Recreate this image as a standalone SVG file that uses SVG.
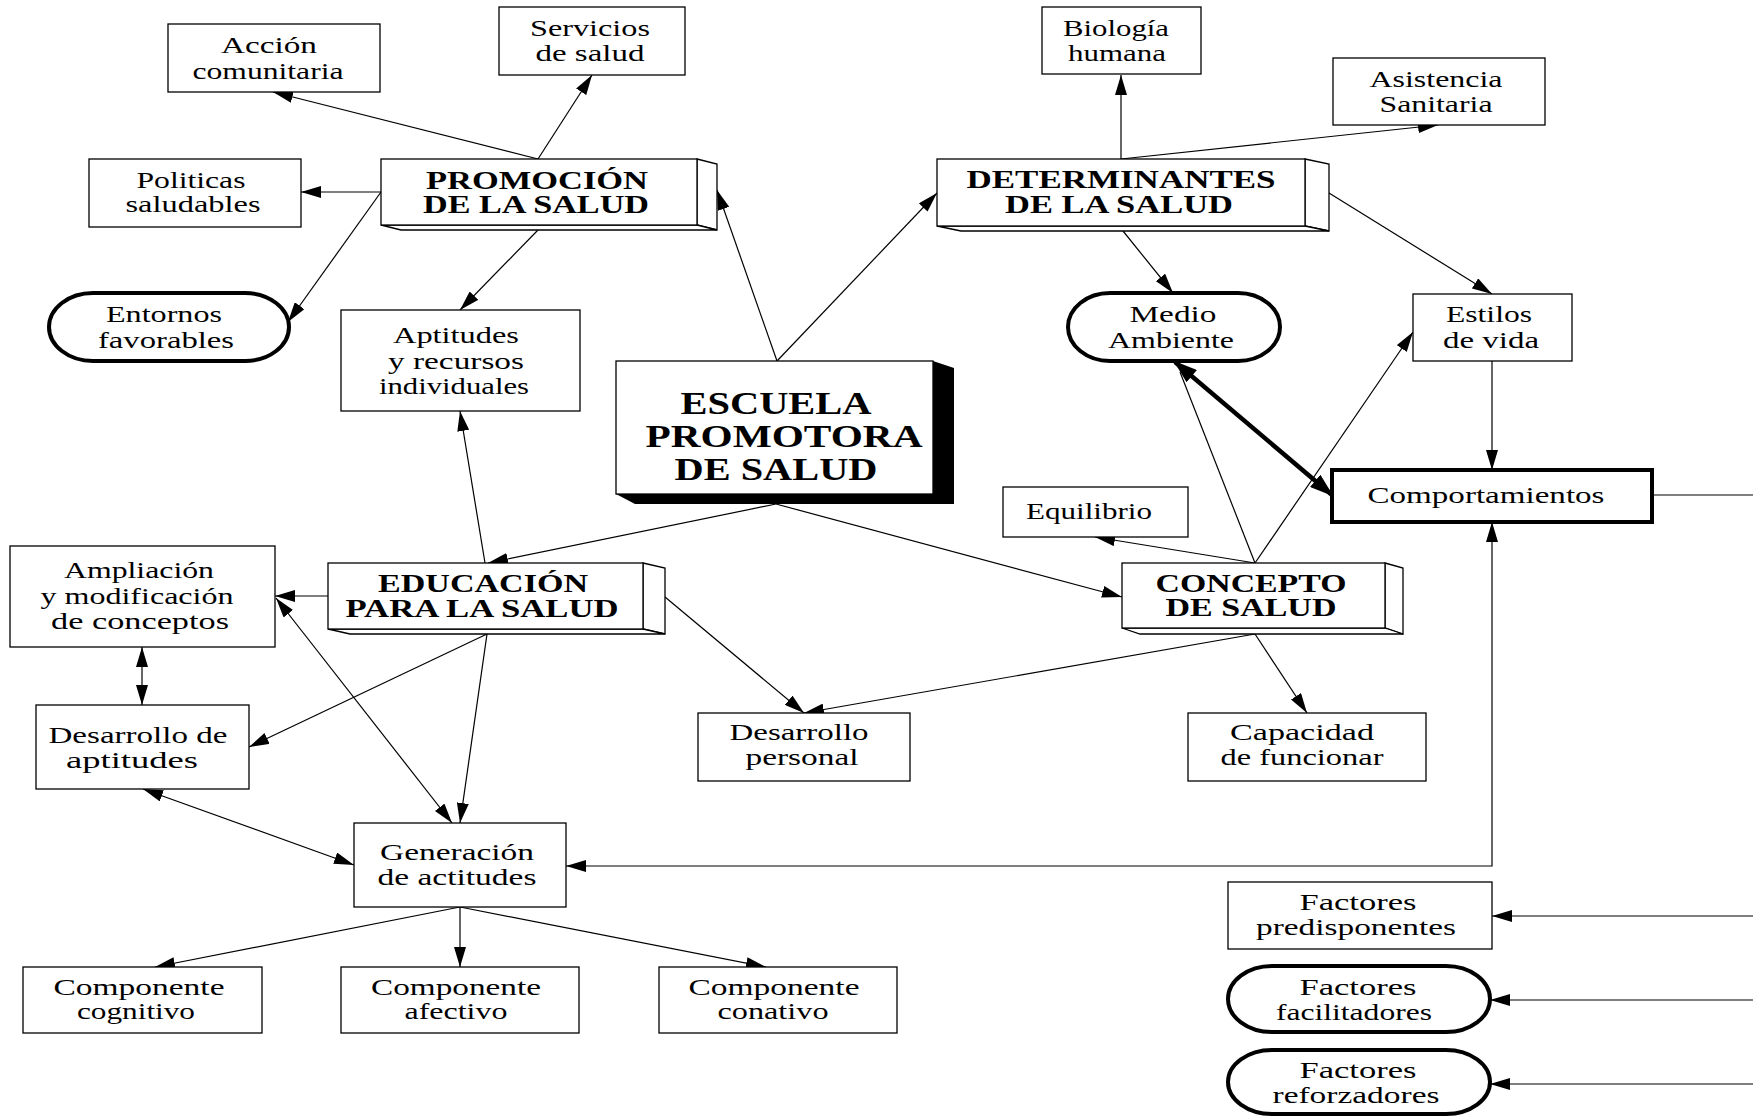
<svg xmlns="http://www.w3.org/2000/svg" width="1753" height="1116" viewBox="0 0 1753 1116">
<defs>
<style>
.bx{fill:#fff;stroke:#000;stroke-width:1.3}
.tk{fill:#fff;stroke:#000;stroke-width:4}
.ln{fill:none;stroke:#000;stroke-width:1.2}
.lk{fill:none;stroke:#000;stroke-width:4.5}
text{font-family:"Liberation Serif","Times New Roman",serif;font-size:23px;text-anchor:middle;fill:#000}
.b{font-weight:bold;font-size:25px}
.e{font-weight:bold;font-size:31px}
</style>
<marker id="ah" markerWidth="20" markerHeight="12" refX="20" refY="6" orient="auto" markerUnits="userSpaceOnUse"><path d="M0,0 L20,6 L0,12 z" fill="#000"/></marker>
<marker id="as" markerWidth="20" markerHeight="12" refX="20" refY="6" orient="auto-start-reverse" markerUnits="userSpaceOnUse"><path d="M0,0 L20,6 L0,12 z" fill="#000"/></marker>
<marker id="ak" markerWidth="24" markerHeight="16" refX="22" refY="8" orient="auto-start-reverse" markerUnits="userSpaceOnUse"><path d="M0,0 L24,8 L0,16 z" fill="#000"/></marker>
</defs>
<rect width="1753" height="1116" fill="#fff"/>
<g id="connectors">
<line class="ln" x1="538" y1="159" x2="273" y2="92" marker-end="url(#ah)"/>
<line class="ln" x1="538" y1="159" x2="592" y2="75" marker-end="url(#ah)"/>
<line class="ln" x1="381" y1="192" x2="301" y2="192" marker-end="url(#ah)"/>
<line class="ln" x1="381" y1="192" x2="288" y2="322" marker-end="url(#ah)"/>
<line class="ln" x1="538" y1="230" x2="460" y2="310" marker-end="url(#ah)"/>
<line class="ln" x1="777" y1="361" x2="717" y2="190" marker-end="url(#ah)"/>
<line class="ln" x1="777" y1="361" x2="937" y2="193" marker-end="url(#ah)"/>
<line class="ln" x1="1121" y1="159" x2="1121" y2="75" marker-end="url(#ah)"/>
<line class="ln" x1="1121" y1="159" x2="1438" y2="125" marker-end="url(#ah)"/>
<line class="ln" x1="1123" y1="231" x2="1173" y2="293" marker-end="url(#ah)"/>
<line class="ln" x1="1329" y1="193" x2="1492" y2="294" marker-end="url(#ah)"/>
<line class="ln" x1="1492" y1="361" x2="1492" y2="470" marker-end="url(#ah)"/>
<line class="ln" x1="1255" y1="563" x2="1180" y2="372"/>
<line class="lk" x1="1175" y1="362" x2="1332" y2="495" marker-start="url(#ak)" marker-end="url(#ak)"/>
<line class="ln" x1="1255" y1="563" x2="1413" y2="332" marker-end="url(#ah)"/>
<line class="ln" x1="1255" y1="563" x2="1095" y2="537" marker-end="url(#ah)"/>
<line class="ln" x1="776" y1="504" x2="1122" y2="597" marker-end="url(#ah)"/>
<line class="ln" x1="776" y1="504" x2="488" y2="563" marker-end="url(#ah)"/>
<line class="ln" x1="1255" y1="634" x2="804" y2="713" marker-end="url(#ah)"/>
<line class="ln" x1="1255" y1="634" x2="1307" y2="713" marker-end="url(#ah)"/>
<line class="ln" x1="665" y1="597" x2="804" y2="713" marker-end="url(#ah)"/>
<line class="ln" x1="485" y1="563" x2="460" y2="411" marker-end="url(#ah)"/>
<line class="ln" x1="328" y1="596" x2="275" y2="596" marker-end="url(#ah)"/>
<line class="ln" x1="142" y1="647" x2="142" y2="705" marker-start="url(#as)" marker-end="url(#as)"/>
<line class="ln" x1="487" y1="634" x2="249" y2="747" marker-end="url(#ah)"/>
<line class="ln" x1="487" y1="634" x2="460" y2="823" marker-end="url(#ah)"/>
<line class="ln" x1="276" y1="598" x2="452" y2="823" marker-start="url(#as)" marker-end="url(#as)"/>
<line class="ln" x1="143" y1="789" x2="354" y2="865" marker-start="url(#as)" marker-end="url(#as)"/>
<polyline class="ln" points="1492,522 1492,866 566,866" marker-start="url(#as)" marker-end="url(#as)"/>
<line class="ln" x1="1652" y1="495" x2="1753" y2="495"/>
<line class="ln" x1="1753" y1="916" x2="1492" y2="916" marker-end="url(#ah)"/>
<line class="ln" x1="1753" y1="1000" x2="1490" y2="1000" marker-end="url(#ah)"/>
<line class="ln" x1="1753" y1="1084" x2="1490" y2="1084" marker-end="url(#ah)"/>
<line class="ln" x1="460" y1="907" x2="155" y2="967" marker-end="url(#ah)"/>
<line class="ln" x1="460" y1="907" x2="460" y2="967" marker-end="url(#ah)"/>
<line class="ln" x1="460" y1="907" x2="766" y2="967" marker-end="url(#ah)"/>
</g>
<g id="accion"><rect class="bx" x="168" y="24" width="212" height="68"/>
<text x="269" y="53" textLength="96" lengthAdjust="spacingAndGlyphs">Acción</text>
<text x="268" y="79" textLength="151" lengthAdjust="spacingAndGlyphs">comunitaria</text></g>
<g id="servicios"><rect class="bx" x="499" y="7" width="186" height="68"/>
<text x="590" y="36" textLength="120" lengthAdjust="spacingAndGlyphs">Servicios</text>
<text x="590" y="61" textLength="109" lengthAdjust="spacingAndGlyphs">de salud</text></g>
<g id="politicas"><rect class="bx" x="89" y="159" width="212" height="68"/>
<text x="191" y="188" textLength="109" lengthAdjust="spacingAndGlyphs">Politicas</text>
<text x="193" y="212" textLength="135" lengthAdjust="spacingAndGlyphs">saludables</text></g>
<g id="promocion">
<polygon class="bx" points="697,159 717,164 717,230 697,225"/>
<polygon class="bx" points="381,225 401,230 717,230 697,225"/>
<rect class="bx" x="381" y="159" width="316" height="66"/>
<text class="b" x="537" y="189" textLength="222" lengthAdjust="spacingAndGlyphs">PROMOCIÓN</text>
<text class="b" x="536" y="213" textLength="226" lengthAdjust="spacingAndGlyphs">DE LA SALUD</text></g>
<g id="entornos"><rect class="tk" x="49" y="293" width="240" height="68" rx="44" ry="34"/>
<text x="164" y="322" textLength="116" lengthAdjust="spacingAndGlyphs">Entornos</text>
<text x="166" y="348" textLength="136" lengthAdjust="spacingAndGlyphs">favorables</text></g>
<g id="aptitudes"><rect class="bx" x="341" y="310" width="239" height="101"/>
<text x="456" y="343" textLength="126" lengthAdjust="spacingAndGlyphs">Aptitudes</text>
<text x="456" y="369" textLength="136" lengthAdjust="spacingAndGlyphs">y recursos</text>
<text x="454" y="394" textLength="150" lengthAdjust="spacingAndGlyphs">individuales</text></g>
<g id="escuela">
<polygon points="933,361 954,368 954,504 635,504 616,494 933,494" fill="#000"/>
<rect class="bx" x="616" y="361" width="317" height="133" stroke-width="1.8"/>
<text class="e" x="776" y="414" textLength="191" lengthAdjust="spacingAndGlyphs">ESCUELA</text>
<text class="e" x="784" y="447" textLength="277" lengthAdjust="spacingAndGlyphs">PROMOTORA</text>
<text class="e" x="776" y="480" textLength="203" lengthAdjust="spacingAndGlyphs">DE SALUD</text></g>
<g id="biologia"><rect class="bx" x="1042" y="7" width="159" height="67"/>
<text x="1116" y="36" textLength="106" lengthAdjust="spacingAndGlyphs">Biología</text>
<text x="1117" y="61" textLength="98" lengthAdjust="spacingAndGlyphs">humana</text></g>
<g id="asistencia"><rect class="bx" x="1333" y="58" width="212" height="67"/>
<text x="1436" y="87" textLength="133" lengthAdjust="spacingAndGlyphs">Asistencia</text>
<text x="1436" y="112" textLength="113" lengthAdjust="spacingAndGlyphs">Sanitaria</text></g>
<g id="determinantes">
<polygon class="bx" points="1305,159 1329,164 1329,231 1305,226"/>
<polygon class="bx" points="937,226 961,231 1329,231 1305,226"/>
<rect class="bx" x="937" y="159" width="368" height="67"/>
<text class="b" x="1121" y="188" textLength="309" lengthAdjust="spacingAndGlyphs">DETERMINANTES</text>
<text class="b" x="1119" y="213" textLength="228" lengthAdjust="spacingAndGlyphs">DE LA SALUD</text></g>
<g id="medio"><rect class="tk" x="1068" y="293" width="212" height="68" rx="42" ry="34"/>
<text x="1173" y="322" textLength="87" lengthAdjust="spacingAndGlyphs">Medio</text>
<text x="1171" y="348" textLength="126" lengthAdjust="spacingAndGlyphs">Ambiente</text></g>
<g id="estilos"><rect class="bx" x="1413" y="294" width="159" height="67"/>
<text x="1489" y="322" textLength="86" lengthAdjust="spacingAndGlyphs">Estilos</text>
<text x="1491" y="348" textLength="96" lengthAdjust="spacingAndGlyphs">de vida</text></g>
<g id="comportamientos"><rect class="tk" x="1332" y="470" width="320" height="52"/>
<text x="1486" y="503" textLength="237" lengthAdjust="spacingAndGlyphs">Comportamientos</text></g>
<g id="equilibrio"><rect class="bx" x="1003" y="487" width="185" height="50"/>
<text x="1089" y="519" textLength="126" lengthAdjust="spacingAndGlyphs">Equilibrio</text></g>
<g id="concepto">
<polygon class="bx" points="1385,563 1403,568 1403,634 1385,628"/>
<polygon class="bx" points="1122,628 1140,634 1403,634 1385,628"/>
<rect class="bx" x="1122" y="563" width="263" height="65"/>
<text class="b" x="1251" y="592" textLength="191" lengthAdjust="spacingAndGlyphs">CONCEPTO</text>
<text class="b" x="1251" y="616" textLength="171" lengthAdjust="spacingAndGlyphs">DE SALUD</text></g>
<g id="ampliacion"><rect class="bx" x="10" y="546" width="265" height="101"/>
<text x="139" y="578" textLength="150" lengthAdjust="spacingAndGlyphs">Ampliación</text>
<text x="137" y="604" textLength="193" lengthAdjust="spacingAndGlyphs">y modificación</text>
<text x="140" y="629" textLength="178" lengthAdjust="spacingAndGlyphs">de conceptos</text></g>
<g id="educacion">
<polygon class="bx" points="643,563 665,568 665,634 643,629"/>
<polygon class="bx" points="328,629 350,634 665,634 643,629"/>
<rect class="bx" x="328" y="563" width="315" height="66"/>
<text class="b" x="483" y="592" textLength="210" lengthAdjust="spacingAndGlyphs">EDUCACIÓN</text>
<text class="b" x="482" y="617" textLength="273" lengthAdjust="spacingAndGlyphs">PARA LA SALUD</text></g>
<g id="desarrollo-aptitudes"><rect class="bx" x="36" y="705" width="213" height="84"/>
<text x="138" y="743" textLength="179" lengthAdjust="spacingAndGlyphs">Desarrollo de</text>
<text x="132" y="768" textLength="132" lengthAdjust="spacingAndGlyphs">aptitudes</text></g>
<g id="desarrollo-personal"><rect class="bx" x="698" y="713" width="212" height="68"/>
<text x="799" y="740" textLength="139" lengthAdjust="spacingAndGlyphs">Desarrollo</text>
<text x="802" y="765" textLength="113" lengthAdjust="spacingAndGlyphs">personal</text></g>
<g id="capacidad"><rect class="bx" x="1188" y="713" width="238" height="68"/>
<text x="1302" y="740" textLength="144" lengthAdjust="spacingAndGlyphs">Capacidad</text>
<text x="1302" y="765" textLength="163" lengthAdjust="spacingAndGlyphs">de funcionar</text></g>
<g id="generacion"><rect class="bx" x="354" y="823" width="212" height="84"/>
<text x="457" y="860" textLength="154" lengthAdjust="spacingAndGlyphs">Generación</text>
<text x="457" y="885" textLength="159" lengthAdjust="spacingAndGlyphs">de actitudes</text></g>
<g id="cognitivo"><rect class="bx" x="23" y="967" width="239" height="66"/>
<text x="139" y="995" textLength="171" lengthAdjust="spacingAndGlyphs">Componente</text>
<text x="136" y="1019" textLength="118" lengthAdjust="spacingAndGlyphs">cognitivo</text></g>
<g id="afectivo"><rect class="bx" x="341" y="967" width="238" height="66"/>
<text x="456" y="995" textLength="170" lengthAdjust="spacingAndGlyphs">Componente</text>
<text x="456" y="1019" textLength="103" lengthAdjust="spacingAndGlyphs">afectivo</text></g>
<g id="conativo"><rect class="bx" x="659" y="967" width="238" height="66"/>
<text x="774" y="995" textLength="171" lengthAdjust="spacingAndGlyphs">Componente</text>
<text x="773" y="1019" textLength="111" lengthAdjust="spacingAndGlyphs">conativo</text></g>
<g id="predisponentes"><rect class="bx" x="1228" y="882" width="264" height="67"/>
<text x="1358" y="910" textLength="117" lengthAdjust="spacingAndGlyphs">Factores</text>
<text x="1356" y="935" textLength="200" lengthAdjust="spacingAndGlyphs">predisponentes</text></g>
<g id="facilitadores"><rect class="tk" x="1228" y="966" width="262" height="66" rx="44" ry="33"/>
<text x="1358" y="995" textLength="117" lengthAdjust="spacingAndGlyphs">Factores</text>
<text x="1354" y="1020" textLength="156" lengthAdjust="spacingAndGlyphs">facilitadores</text></g>
<g id="reforzadores"><rect class="tk" x="1228" y="1050" width="262" height="64" rx="44" ry="32"/>
<text x="1358" y="1078" textLength="117" lengthAdjust="spacingAndGlyphs">Factores</text>
<text x="1356" y="1103" textLength="167" lengthAdjust="spacingAndGlyphs">reforzadores</text></g>
</svg>
